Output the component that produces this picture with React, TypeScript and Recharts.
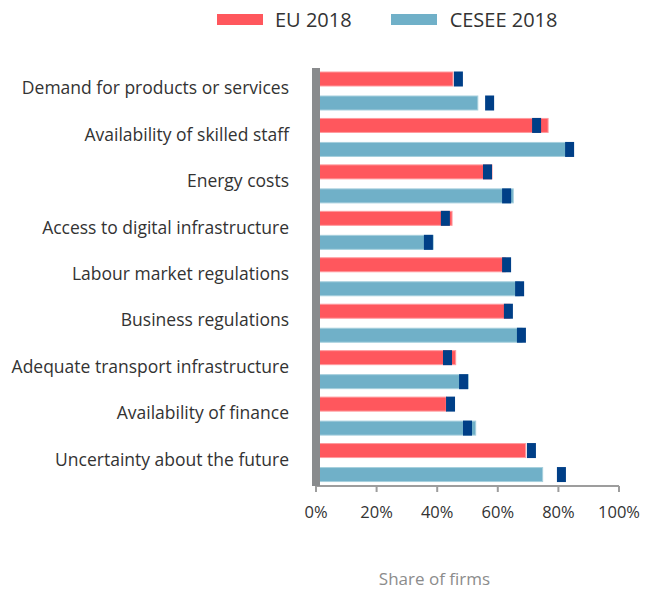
import React from "react";
import { Bar, BarChart, XAxis, YAxis } from "recharts";

const categories = [
  "Demand for products or services",
  "Availability of skilled staff",
  "Energy costs",
  "Access to digital infrastructure",
  "Labour market regulations",
  "Business regulations",
  "Adequate transport infrastructure",
  "Availability of finance",
  "Uncertainty about the future",
];
const eu2018 = [45.2, 76.6, 58.1, 44.9, 62.5, 64.0, 46.1, 43.0, 69.2];
const cesee2018 = [53.4, 82.7, 65.1, 38.7, 67.1, 68.0, 50.3, 52.7, 74.8];
// dark blue markers drawn next to each bar
const euMarker = [47.0, 72.8, 56.6, 42.7, 62.9, 63.5, 43.4, 44.4, 71.1];
const ceseeMarker = [57.3, 83.7, 62.9, 37.1, 67.2, 67.8, 48.7, 50.0, 81.0];
const xTicks = [0, 20, 40, 60, 80, 100];

const data = categories.map((name, i) => ({
  name,
  eu: eu2018[i],
  cesee: cesee2018[i],
  euMark: euMarker[i],
  ceseeMark: ceseeMarker[i],
}));

const FONT = "'Open Sans', sans-serif";
const RED = "#ff575d";
const BLUE = "#70b0c8";
const NAVY = "#003f87";

function makeShape(valueKey: string, markKey: string, border: string) {
  return (props: any) => {
    const { x, y, width, height, fill, payload } = props;
    const v = payload[valueKey];
    const perUnit = v ? width / v : 0;
    const mx = x + payload[markKey] * perUnit;
    return (
      <g>
        <rect x={x} y={y} width={width} height={height} fill={fill} stroke={border} strokeWidth={1} />
        <rect x={mx - 4.5} y={y + height / 2 - 7.5} width={9} height={15} fill={NAVY} />
      </g>
    );
  };
}

const CategoryTick = (props: any) => {
  const { x, y, payload } = props;
  return (
    <text x={x} y={y} dy={-4} textAnchor="end" dominantBaseline="central" fontFamily={FONT} fontSize={17.5} fill="#333">
      {payload.value}
    </text>
  );
};

export default function App() {
  return (
    <div style={{ position: "absolute", left: 0, top: 0, width: 656, height: 591, background: "#fff" }}>
      <div style={{ position: "absolute", top: 6, left: 217, display: "flex", alignItems: "center", fontFamily: FONT, fontSize: 20, color: "#333" }}>
        <span style={{ display: "inline-block", width: 46, height: 11, background: RED, marginRight: 12 }} />
        <span style={{ marginRight: 39 }}>EU 2018</span>
        <span style={{ display: "inline-block", width: 46, height: 11, background: BLUE, marginRight: 13 }} />
        <span>CESEE 2018</span>
      </div>
      <BarChart
        width={656}
        height={591}
        data={data}
        layout="vertical"
        margin={{ top: 68, right: 37, bottom: 0, left: 0 }}
        barSize={14}
        barGap={10}
      >
        <XAxis
          type="number"
          domain={[0, 100]}
          ticks={xTicks}
          tickFormatter={(v) => `${v}%`}
          axisLine={{ stroke: "#9d9d9d", strokeWidth: 2 }}
          tickLine={{ stroke: "#9d9d9d", strokeWidth: 2 }}
          tickSize={6}
          tickMargin={14}
          tick={{ fontFamily: FONT, fontSize: 16.5, fill: "#333" }}
          height={105}
          label={{
            value: "Share of firms",
            position: "insideBottom",
            offset: 6,
            dx: -33,
            style: { fontFamily: FONT, fontSize: 17, fill: "#8c8c8c" },
          }}
        />
        <YAxis
          type="category"
          dataKey="name"
          width={316}
          axisLine={{ stroke: "#898b8d", strokeWidth: 8 }}
          tickLine={false}
          tickSize={0}
          tickMargin={27}
          tick={<CategoryTick />}
          interval={0}
        />
        <Bar dataKey="eu" fill={RED} isAnimationActive={false} shape={makeShape("eu", "euMark", "#ff9a9e")} />
        <Bar dataKey="cesee" fill={BLUE} isAnimationActive={false} shape={makeShape("cesee", "ceseeMark", "#a6cfdd")} />
      </BarChart>
    </div>
  );
}
